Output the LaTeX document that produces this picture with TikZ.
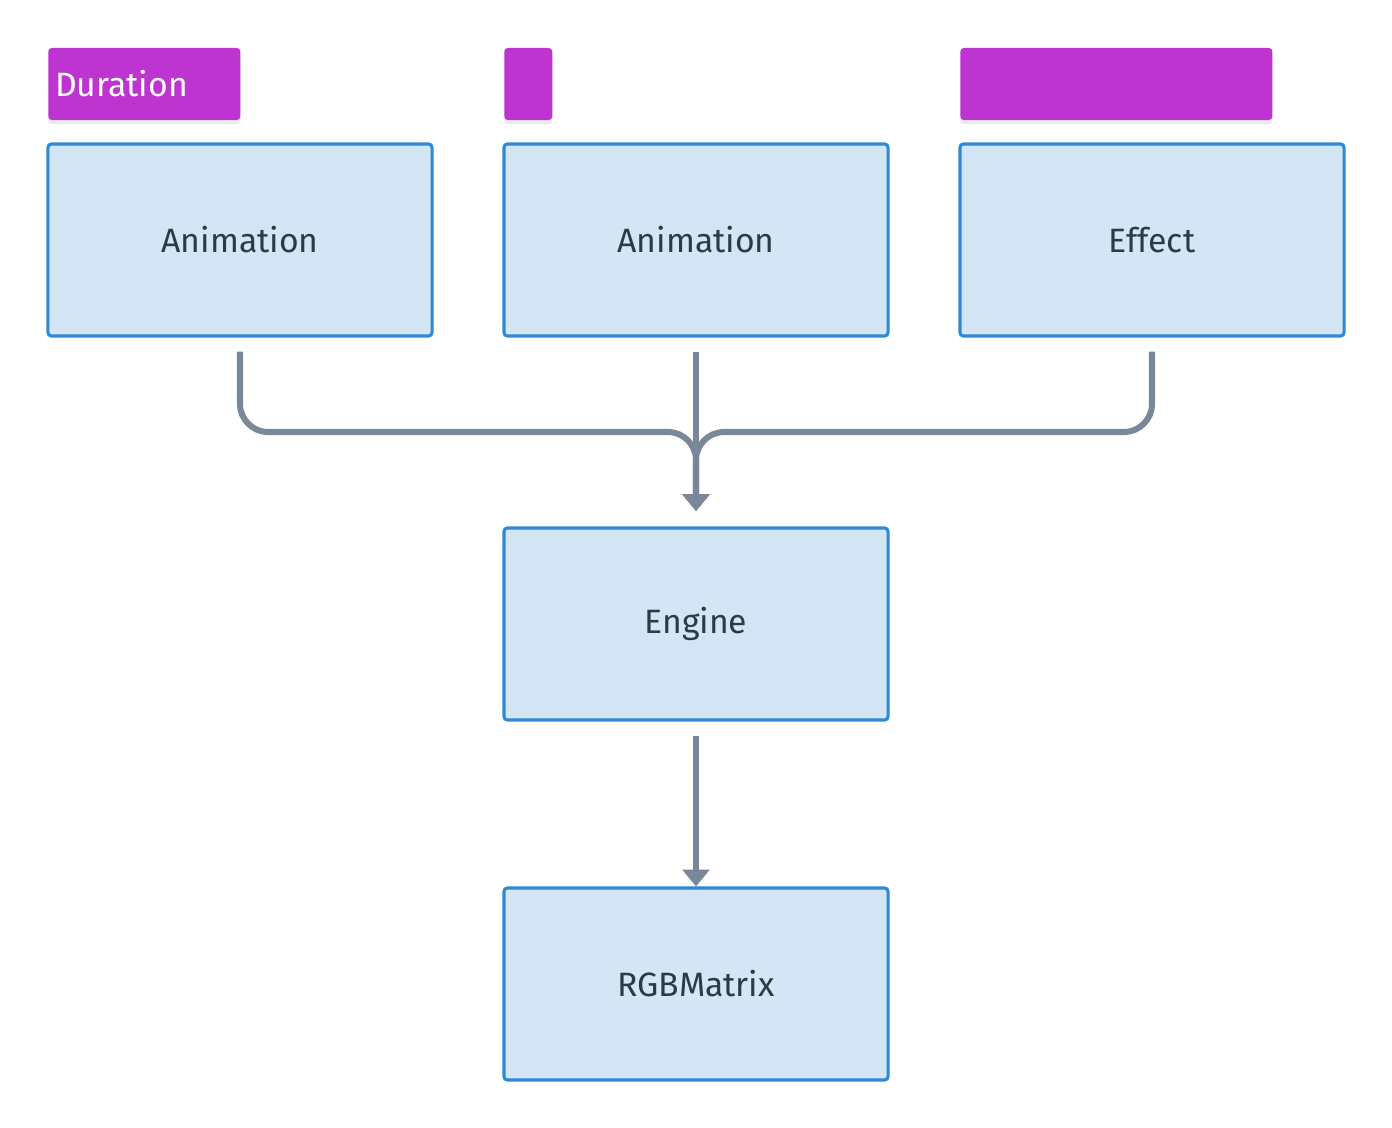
\documentclass[tikz,border=0pt]{standalone}
\usepackage{fontspec}
\setsansfont{Fira Sans}
\usepackage{xcolor}
\usepackage{tikz}
\usetikzlibrary{arrows.meta,shadows}
\definecolor{ink}{HTML}{2B3A48}
\definecolor{boxfill}{HTML}{D4E5F5}
\definecolor{boxline}{HTML}{2E88D8}
\definecolor{tagfill}{HTML}{BD34D1}
\definecolor{wire}{HTML}{788899}
\tikzset{
  font=\sffamily\fontsize{24}{29}\selectfont,
  block/.style={rounded corners=2.5pt,draw=boxline,line width=2.2pt,fill=boxfill,text=ink,minimum width=9.6cm,minimum height=4.8cm},
  tag/.style={rounded corners=2.5pt,fill=tagfill,text=white,minimum height=1.8cm,inner xsep=0.17cm,anchor=west,
    drop shadow={shadow xshift=0pt,shadow yshift=-3pt,opacity=.08,fill=black}},
  wirelink/.style={draw=wire,line width=4.3pt,rounded corners=20pt,-{Triangle[length=12pt,width=19pt]}}
}
\begin{document}
\begin{tikzpicture}[x=0.025cm,y=-0.025cm]
\useasboundingbox (0,0) rectangle (1392,1128);
% top row
\node[block] (anim1) at (240,240) {Animation};
\node[block] (anim2) at (696,240) {Animation};
\node[block] (effect) at (1152,240) {Effect};
\node[tag,text width=4.46cm,align=left] (durtag) at (48,84) {Duration};
\node[tag,minimum width=1.2cm] (midtag) at (504,84) {};
\node[tag,minimum width=7.8cm] (efftag) at (960,84) {};
% lower column
\node[block] (engine) at (696,624) {Engine};
\node[block] (matrix) at (696,984) {RGBMatrix};
\coordinate (merge) at (696,432);
% connectors
\draw[wirelink,shorten <=10pt,shorten >=11pt] (anim1.south) -- (anim1.south |- merge) -- (merge) -- (engine.north);
\draw[wirelink,shorten <=10pt,shorten >=11pt] (effect.south) -- (effect.south |- merge) -- (merge) -- (engine.north);
\draw[wirelink,shorten <=10pt,shorten >=11pt] (anim2.south) -- (engine.north);
\draw[wirelink,shorten <=10pt] (engine.south) -- (matrix.north);
\end{tikzpicture}
\end{document}
